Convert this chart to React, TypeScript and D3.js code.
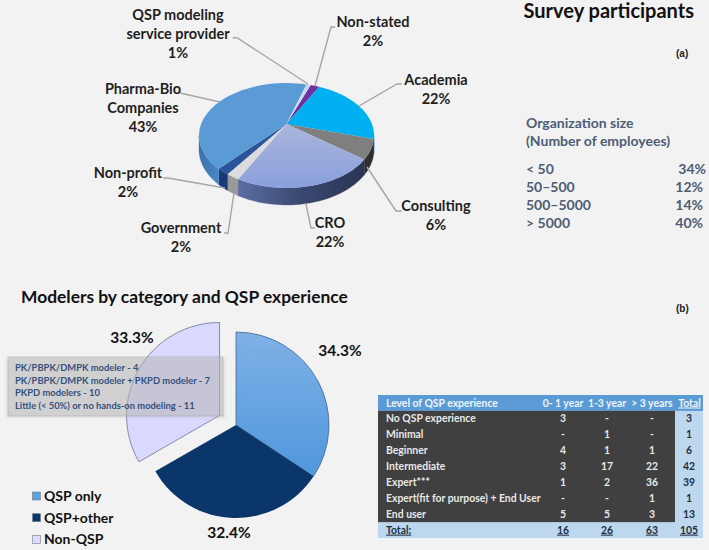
import React from "react";
import * as d3 from "d3";

// ---- data ----
const orgCategories = ["Non-stated", "Academia", "Consulting", "CRO", "Government", "Non-profit", "Pharma-Bio Companies", "QSP modeling service provider"];
const orgValues = [2, 22, 6, 22, 2, 2, 43, 1];
const sizeLabels = ["< 50", "50–500", "500–5000", "> 5000"];
const sizeValues = ["34%", "12%", "14%", "40%"];
const modelerCategories = ["QSP only", "QSP+other", "Non-QSP"];
const modelerValues = [34.3, 32.4, 33.3];
const nonQspNotes = [
  "PK/PBPK/DMPK modeler - 4",
  "PK/PBPK/DMPK modeler + PKPD modeler - 7",
  "PKPD modelers - 10",
  "Little (< 50%) or no hands-on modeling - 11",
];
const tableHeaders = ["0- 1 year", "1-3 year", "> 3 years"];
const tableLevels = ["No QSP experience", "Minimal", "Beginner", "Intermediate", "Expert***", "Expert(fit for purpose) + End User", "End user"];
const col0to1 = ["3", "-", "4", "3", "1", "-", "5"];
const col1to3 = ["-", "1", "1", "17", "2", "-", "5"];
const col3plus = ["-", "-", "1", "22", "36", "1", "3"];
const colTotal = ["3", "1", "6", "42", "39", "1", "13"];
const tableTotals = ["16", "26", "63", "105"];

// ---- styles ----
const FONT = "Lato, 'Open Sans', sans-serif";
const topFill = ["#7030a0", "#00b0f0", "#7f7f7f", "url(#croTop)", "#dcdcdc", "#2a5599", "#5b9bd5", "#c6d9f1"];
const wallFill = ["#7030a0", "#0088bb", "#2e2e2e", "url(#croWall)", "#9a9a9a", "#163a78", "url(#pharmaWall)", "#9ab"];
const modelerFill = ["url(#qspOnly)", "#0b3669", "#d9d9ff"];
const legendFill = ["#5b9fdc", "#0b3669", "#dcdcfa"];

// perspective disc projection
const cx = 286.5, apexY = 124, persp = -0.219, yScale = 22.8, xScale = 85.4, depth = 13.3;
const project = (a: number, r = 1, drop = 0): [number, number] => {
  const u = r * Math.sin(a), v = -r * Math.cos(a), w = 1 + persp * v;
  return [cx + (xScale * u) / w, (yScale * v + apexY + drop) / w];
};
const rad = (deg: number) => (deg * Math.PI) / 180;
const samples = (a0: number, a1: number) => d3.range(0, 41).map((i) => a0 + ((a1 - a0) * i) / 40);
const poly = d3.line();

const orgArcs = d3.pie<number>().sort(null).startAngle(rad(20)).endAngle(rad(380))(orgValues);
const wallLo = rad(102.6), wallHi = rad(257.4);

const lowerArcs = d3.pie<number>().sort(null)(modelerValues);
const lowerArc = d3.arc<d3.PieArcDatum<number>>().innerRadius(0).outerRadius(93);

// ---- annotation layout ----
const leaders: [number, number][][] = [
  [[232.7, 37.7], [237, 37.7], [308, 84]],
  [[335, 27], [331, 27], [315, 86]],
  [[402, 84], [397, 84], [359, 106]],
  [[402, 211], [396, 211], [367, 167]],
  [[315, 228], [311, 228], [306, 204]],
  [[224, 233], [228, 233], [234, 193]],
  [[163, 178], [168, 178], [225, 188]],
  [[180, 93], [220, 102]],
];
const orgLabels: { x: number; y: number; lines: string[] }[] = [
  { x: 178, y: 20, lines: ["QSP modeling", "service provider", "1%"] },
  { x: 373, y: 27, lines: ["Non-stated", "2%"] },
  { x: 436, y: 85, lines: ["Academia", "22%"] },
  { x: 436, y: 211, lines: ["Consulting", "6%"] },
  { x: 330, y: 228, lines: ["CRO", "22%"] },
  { x: 181, y: 233, lines: ["Government", "2%"] },
  { x: 128, y: 178, lines: ["Non-profit", "2%"] },
  { x: 143, y: 94, lines: ["Pharma-Bio", "Companies", "43%"] },
];
const modelerLabelPos = [[340, 356], [229, 538], [132, 343]];

const rowY = d3.scaleBand<number>().domain(d3.range(9)).range([395, 538]);
const colX = [563, 607, 652, 689];
const tableCols = [col0to1, col1to3, col3plus, colTotal];

export default function App() {
  return (
    <svg width={709} height={550} style={{ position: "absolute", left: 0, top: 0, display: "block", background: "#f2f2f2" }} fontFamily={FONT}>
      <defs>
        <linearGradient id="croTop" x1="0" y1="0" x2="0" y2="1">
          <stop offset="0" stopColor="#a9b5db" />
          <stop offset="1" stopColor="#8a9fdc" />
        </linearGradient>
        <linearGradient id="croWall" x1="0" y1="0" x2="1" y2="0">
          <stop offset="0" stopColor="#5a6fa3" />
          <stop offset="0.5" stopColor="#3a4870" />
          <stop offset="1" stopColor="#2a3454" />
        </linearGradient>
        <linearGradient id="pharmaWall" x1="0" y1="0" x2="1" y2="0">
          <stop offset="0" stopColor="#3a72ad" />
          <stop offset="1" stopColor="#4a88c6" />
        </linearGradient>
        <linearGradient id="qspOnly" x1="0" y1="0" x2="0" y2="1">
          <stop offset="0" stopColor="#7fb1e6" />
          <stop offset="1" stopColor="#4f97dc" />
        </linearGradient>
        <filter id="boxShadow" x="-5%" y="-15%" width="110%" height="130%">
          <feGaussianBlur stdDeviation="1.5" />
        </filter>
      </defs>

      {/* 3D pie: walls */}
      {orgArcs.map((d, i) => {
        const lo = Math.max(d.startAngle, wallLo), hi = Math.min(d.endAngle, wallHi);
        if (hi <= lo) return null;
        const top = samples(lo, hi).map((a) => project(a));
        const bottom = samples(hi, lo).map((a) => project(a, 1, depth));
        return <path key={i} d={poly([...top, ...bottom])! + "Z"} fill={wallFill[i]} stroke={wallFill[i]} strokeWidth={0.3} />;
      })}
      {/* 3D pie: top faces */}
      {orgArcs.map((d, i) => {
        const pts = [project(0, 0), ...samples(d.startAngle, d.endAngle).map((a) => project(a))];
        return <path key={i} d={poly(pts)! + "Z"} fill={topFill[i]} />;
      })}

      {leaders.map((l, i) => (
        <path key={i} d={poly(l)!} fill="none" stroke="#a6a6a6" strokeWidth={1.4} />
      ))}
      {orgLabels.map((l, i) => (
        <text key={i} textAnchor="middle" fontSize={14.5} fontWeight={700} fill="#1f1f1f">
          {l.lines.map((t, j) => (
            <tspan key={j} x={l.x} y={l.y + j * 19}>{t}</tspan>
          ))}
        </text>
      ))}

      <text x={694} y={18} textAnchor="end" fontSize={20} fontWeight={700} fill="#111">Survey participants</text>
      <text x={676} y={57} fontSize={10} fontWeight={700} fontFamily="'Liberation Sans'" fill="#222">(a)</text>
      <text x={676} y={312} fontSize={10} fontWeight={700} fontFamily="'Liberation Sans'" fill="#222">(b)</text>

      <g fontSize={14} fontWeight={700} fill="#4d5d75">
        <text x={526} y={128}>Organization size</text>
        <text x={526} y={146}>(Number of employees)</text>
        {sizeLabels.map((s, i) => (
          <text key={s} x={526} y={174 + i * 18}>{s}</text>
        ))}
        {sizeValues.map((s, i) => (
          <text key={i} x={i === 0 ? 706 : 703} y={174 + i * 18} textAnchor="end">{s}</text>
        ))}
      </g>

      <text x={21} y={303} fontSize={17.4} fontWeight={700} fill="#111">Modelers by category and QSP experience</text>

      {/* exploded pie */}
      {lowerArcs.map((d, i) => {
        const mid = (d.startAngle + d.endAngle) / 2;
        const off = i === 2 ? 19 : 0;
        const tx = 236 + off * Math.sin(mid), ty = 425 - off * Math.cos(mid);
        return (
          <path key={i} transform={`translate(${tx},${ty})`} d={lowerArc(d)!} fill={modelerFill[i]}
            stroke={i === 2 ? "#6e7391" : i === 0 ? "#41648f" : "#f2f2f2"} strokeWidth={i === 1 ? 0 : 0.8} />
        );
      })}
      {modelerValues.map((v, i) => (
        <text key={i} x={modelerLabelPos[i][0]} y={modelerLabelPos[i][1]} textAnchor="middle" fontSize={15.5} fontWeight={700} fill="#111">{v.toFixed(1)}%</text>
      ))}

      <rect x={6} y={358} width={219} height={60} fill="#aaa" opacity={0.25} filter="url(#boxShadow)" />
      <rect x={8} y={357} width={215} height={59} fill="#b8b8b8" fillOpacity={0.4} stroke="#a8a8a8" strokeOpacity={0.5} />
      {nonQspNotes.map((t, i) => (
        <text key={i} x={15} y={371 + i * 12.7} fontSize={9.4} fontWeight={700} fill="#34507f">{t}</text>
      ))}

      {modelerCategories.map((c, i) => (
        <g key={c}>
          <rect x={32.5} y={492 + i * 21.7} width={8} height={8} fill={legendFill[i]} stroke="#6f7f95" strokeWidth={0.6} />
          <text x={44} y={501 + i * 21.7} fontSize={14} fontWeight={700} fill="#111">{c}</text>
        </g>
      ))}

      {/* table */}
      <rect x={378} y={395} width={325} height={143} fill="#bdd7ee" />
      <rect x={378} y={rowY(0)!} width={325} height={rowY.bandwidth()} fill="#5b9bd5" />
      <rect x={378} y={rowY(1)!} width={297} height={rowY.bandwidth() * 7} fill="#404040" />
      <g fontSize={10.4} fontWeight={700}>
        <text x={386} y={rowY(0)! + 11.5} fill="#eef3fa">Level of QSP experience</text>
        {tableHeaders.map((h, i) => (
          <text key={h} x={colX[i]} y={rowY(0)! + 11.5} textAnchor="middle" fill="#eef3fa">{h}</text>
        ))}
        <text x={689.5} y={rowY(0)! + 11.5} textAnchor="middle" fill="#eef3fa" textDecoration="underline">Total</text>
        {tableLevels.map((l, r) => (
          <text key={l} x={386} y={rowY(r + 1)! + 11.5} fill="#e8e8e8">{l}</text>
        ))}
        {tableCols.map((col, c) =>
          col.map((v, r) => (
            <text key={c + "-" + r} x={colX[c]} y={rowY(r + 1)! + 11.5} textAnchor="middle" fill={c === 3 ? "#1f2d3d" : "#e8e8e8"}>{v}</text>
          ))
        )}
        <text x={386} y={rowY(8)! + 11.5} fill="#1f2d3d" textDecoration="underline">Total:</text>
        {tableTotals.map((v, c) => (
          <text key={c} x={colX[c]} y={rowY(8)! + 11.5} textAnchor="middle" fill="#1f2d3d" textDecoration="underline">{v}</text>
        ))}
      </g>
    </svg>
  );
}
